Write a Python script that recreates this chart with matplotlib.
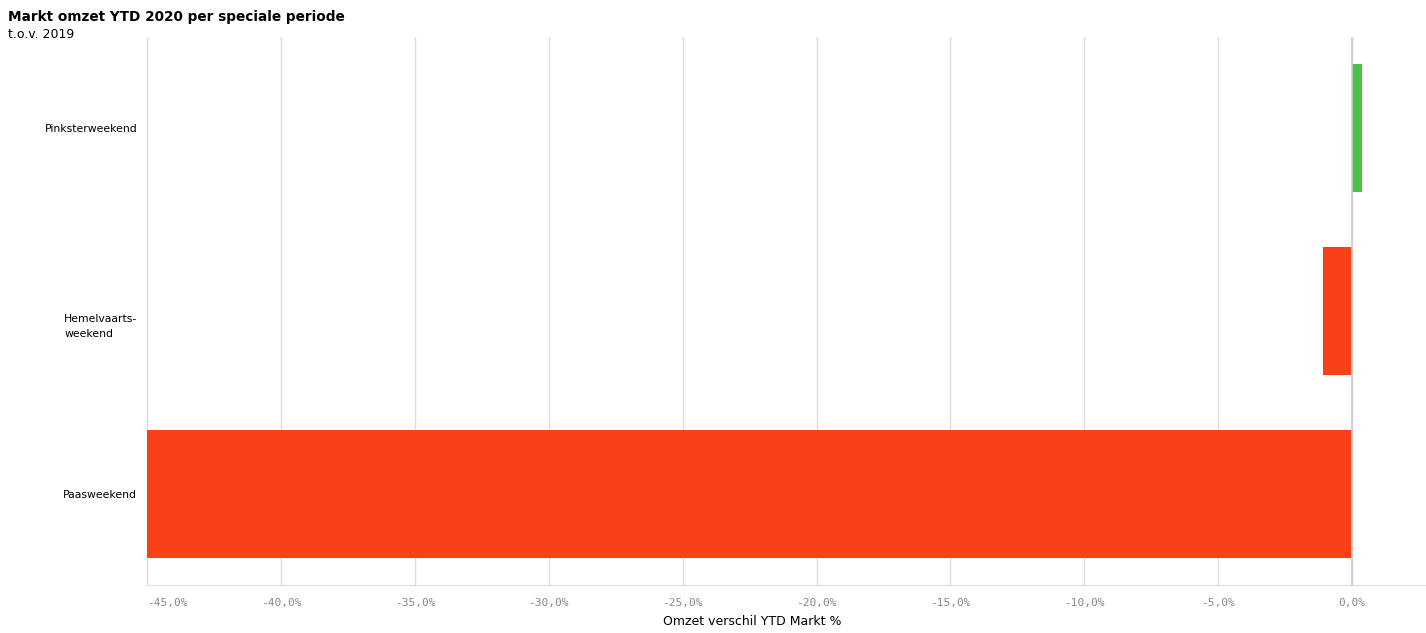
import matplotlib
matplotlib.use('Agg')
import matplotlib.pyplot as plt
import matplotlib.transforms as mtransforms
from matplotlib.ticker import FuncFormatter

# Data
periods = ['Paasweekend', 'Hemelvaarts-\nweekend', 'Pinksterweekend']
change_pct = [-45.0, -1.1, 0.37]
ticks = [-45, -40, -35, -30, -25, -20, -15, -10, -5, 0]

red = '#F94118'
green = '#47C447'
colors = [green if v >= 0 else red for v in change_pct]

fig = plt.figure(figsize=(14.26, 6.33), dpi=100)
ax = fig.add_axes([0.1031, 0.0758, 0.8969, 0.8657])

ax.barh(range(len(periods)), change_pct, height=0.70, color=colors, zorder=3)

ax.set_xlim(-45, 2.76)
ax.set_ylim(-0.5, 2.5)
ax.set_xticks(ticks)
ax.xaxis.set_major_formatter(FuncFormatter(lambda v, p: f'{v:.1f}%'.replace('.', ',')))
ax.set_yticks(range(len(periods)))
ax.set_yticklabels(periods, fontsize=7.8, linespacing=1.6)
for lbl in ax.get_yticklabels():
    lbl.set_multialignment('left')
ax.tick_params(axis='y', length=0, pad=7)
ax.tick_params(axis='x', length=0, pad=9, labelsize=8, labelcolor='#888888')
for lbl in ax.get_xticklabels():
    lbl.set_family('DejaVu Sans Mono')
ax.get_xticklabels()[0].set_ha('left')

# the two-line label sits a bit lower in the original
hl = ax.get_yticklabels()[1]
hl.set_transform(hl.get_transform() + mtransforms.ScaledTranslation(0, -12 / 100, fig.dpi_scale_trans))

ax.grid(axis='x', color='#dddddd', linewidth=1, zorder=0)
ax.axvline(0, color='#cccccc', linewidth=1.2, zorder=4)
for s in ['top', 'right']:
    ax.spines[s].set_visible(False)
ax.spines['left'].set_color('#dddddd')
ax.spines['bottom'].set_color('#dddddd')

ax.set_xlabel('Omzet verschil YTD Markt %', fontsize=9)
ax.xaxis.set_label_coords(0.473, -0.055)

fig.text(8 / 1426, 1 - 17 / 633, 'Markt omzet YTD 2020 per speciale periode',
         fontsize=9.8, fontweight='bold', va='center', ha='left')
fig.text(8 / 1426, 1 - 35 / 633, 't.o.v. 2019', fontsize=9, va='center', ha='left')

fig.savefig('out.png', dpi=100)
